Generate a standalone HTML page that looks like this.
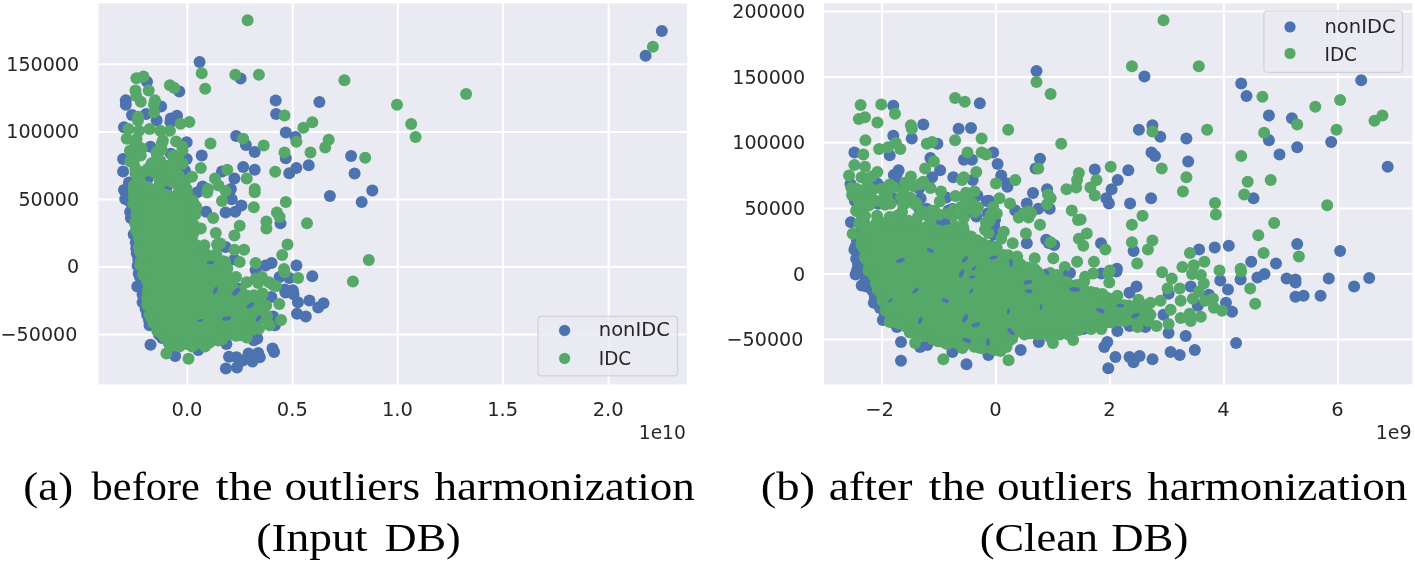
<!DOCTYPE html>
<html><head><meta charset="utf-8"><title>Outliers harmonization</title>
<style>
html,body{margin:0;padding:0;background:#fff;width:1415px;height:566px;overflow:hidden}
svg{display:block}
.tk{font-family:"DejaVu Sans","Liberation Sans",sans-serif;font-size:19.5px;fill:#262626}
.cap{font-family:"Liberation Serif",serif;font-size:41px;fill:#000}
</style></head><body>
<svg width="1415" height="566" viewBox="0 0 1415 566">
<rect width="1415" height="566" fill="#fff"/>
<clipPath id="cl"><rect x="98.5" y="3.5" width="588.6" height="380.9"/></clipPath>
<rect x="98.5" y="3.5" width="588.6" height="380.9" fill="#eaeaf2"/>
<line x1="187.4" y1="3.5" x2="187.4" y2="384.4" stroke="#fff" stroke-width="2"/>
<line x1="292.7" y1="3.5" x2="292.7" y2="384.4" stroke="#fff" stroke-width="2"/>
<line x1="397.79999999999995" y1="3.5" x2="397.79999999999995" y2="384.4" stroke="#fff" stroke-width="2"/>
<line x1="503.09999999999997" y1="3.5" x2="503.09999999999997" y2="384.4" stroke="#fff" stroke-width="2"/>
<line x1="608.6" y1="3.5" x2="608.6" y2="384.4" stroke="#fff" stroke-width="2"/>
<line x1="98.5" y1="64.3" x2="687.1" y2="64.3" stroke="#fff" stroke-width="2"/>
<line x1="98.5" y1="131.9" x2="687.1" y2="131.9" stroke="#fff" stroke-width="2"/>
<line x1="98.5" y1="199.4" x2="687.1" y2="199.4" stroke="#fff" stroke-width="2"/>
<line x1="98.5" y1="266.9" x2="687.1" y2="266.9" stroke="#fff" stroke-width="2"/>
<line x1="98.5" y1="334.5" x2="687.1" y2="334.5" stroke="#fff" stroke-width="2"/>
<g clip-path="url(#cl)"><g transform="translate(0.4,0.5)">
<path d="M127.0,180.9 L127.0,189.3 L130.3,200.6 L130.4,201.0 L130.5,201.4 L132.0,214.4 L134.0,231.4 L134.0,231.4 L136.0,249.3 L137.9,261.0 L140.9,273.9 L140.9,274.0 L143.4,286.0 L143.5,286.7 L144.4,301.0 L149.2,314.2 L154.5,327.7 L160.9,337.9 L168.4,345.3 L175.0,346.2 L175.0,301.4 L145.7,252.6 L145.5,252.1 L145.3,251.7 L145.1,251.2 L145.1,250.7 L135.5,183.8 L127.0,180.9Z" fill="#4c72b0"/>
<circle cx="128.5" cy="181.9" r="6.0" fill="#4c72b0"/>
<circle cx="128.3" cy="188.0" r="6.0" fill="#4c72b0"/>
<circle cx="129.0" cy="193.8" r="6.0" fill="#4c72b0"/>
<circle cx="129.0" cy="200.4" r="6.0" fill="#4c72b0"/>
<circle cx="131.7" cy="204.8" r="6.0" fill="#4c72b0"/>
<circle cx="129.7" cy="211.4" r="6.0" fill="#4c72b0"/>
<circle cx="130.5" cy="217.6" r="6.0" fill="#4c72b0"/>
<circle cx="134.9" cy="223.3" r="6.0" fill="#4c72b0"/>
<circle cx="135.8" cy="229.8" r="6.0" fill="#4c72b0"/>
<circle cx="133.3" cy="234.1" r="6.0" fill="#4c72b0"/>
<circle cx="135.4" cy="241.9" r="6.0" fill="#4c72b0"/>
<circle cx="135.9" cy="247.7" r="6.0" fill="#4c72b0"/>
<circle cx="136.4" cy="253.1" r="6.0" fill="#4c72b0"/>
<circle cx="137.9" cy="258.9" r="6.0" fill="#4c72b0"/>
<circle cx="137.2" cy="265.2" r="6.0" fill="#4c72b0"/>
<circle cx="138.3" cy="273.0" r="6.0" fill="#4c72b0"/>
<circle cx="139.5" cy="276.2" r="6.0" fill="#4c72b0"/>
<circle cx="141.2" cy="283.7" r="6.0" fill="#4c72b0"/>
<circle cx="144.3" cy="288.2" r="6.0" fill="#4c72b0"/>
<circle cx="142.2" cy="294.0" r="6.0" fill="#4c72b0"/>
<circle cx="145.9" cy="300.9" r="6.0" fill="#4c72b0"/>
<circle cx="145.2" cy="308.5" r="6.0" fill="#4c72b0"/>
<circle cx="146.8" cy="314.5" r="6.0" fill="#4c72b0"/>
<circle cx="148.7" cy="319.9" r="6.0" fill="#4c72b0"/>
<circle cx="151.2" cy="322.5" r="6.0" fill="#4c72b0"/>
<circle cx="157.4" cy="329.8" r="6.0" fill="#4c72b0"/>
<circle cx="158.6" cy="334.1" r="6.0" fill="#4c72b0"/>
<circle cx="161.8" cy="337.4" r="6.0" fill="#4c72b0"/>
<circle cx="168.4" cy="342.6" r="6.0" fill="#4c72b0"/>
<circle cx="174.0" cy="345.5" r="6.0" fill="#4c72b0"/>
<circle cx="175.9" cy="342.6" r="6.0" fill="#4c72b0"/>
<circle cx="173.9" cy="334.9" r="6.0" fill="#4c72b0"/>
<circle cx="174.0" cy="332.4" r="6.0" fill="#4c72b0"/>
<circle cx="173.0" cy="325.3" r="6.0" fill="#4c72b0"/>
<circle cx="175.9" cy="317.7" r="6.0" fill="#4c72b0"/>
<circle cx="174.4" cy="311.0" r="6.0" fill="#4c72b0"/>
<circle cx="176.5" cy="306.8" r="6.0" fill="#4c72b0"/>
<circle cx="172.6" cy="299.8" r="6.0" fill="#4c72b0"/>
<circle cx="172.1" cy="295.7" r="6.0" fill="#4c72b0"/>
<circle cx="166.3" cy="289.2" r="6.0" fill="#4c72b0"/>
<circle cx="164.7" cy="284.3" r="6.0" fill="#4c72b0"/>
<circle cx="163.8" cy="278.6" r="6.0" fill="#4c72b0"/>
<circle cx="156.5" cy="272.3" r="6.0" fill="#4c72b0"/>
<circle cx="154.7" cy="270.5" r="6.0" fill="#4c72b0"/>
<circle cx="153.5" cy="262.9" r="6.0" fill="#4c72b0"/>
<circle cx="149.0" cy="256.4" r="6.0" fill="#4c72b0"/>
<circle cx="145.9" cy="251.2" r="6.0" fill="#4c72b0"/>
<circle cx="145.7" cy="247.3" r="6.0" fill="#4c72b0"/>
<circle cx="145.6" cy="241.1" r="6.0" fill="#4c72b0"/>
<circle cx="141.4" cy="234.3" r="6.0" fill="#4c72b0"/>
<circle cx="143.6" cy="228.4" r="6.0" fill="#4c72b0"/>
<circle cx="141.3" cy="222.9" r="6.0" fill="#4c72b0"/>
<circle cx="140.3" cy="218.4" r="6.0" fill="#4c72b0"/>
<circle cx="137.9" cy="209.3" r="6.0" fill="#4c72b0"/>
<circle cx="139.1" cy="205.5" r="6.0" fill="#4c72b0"/>
<circle cx="138.6" cy="197.1" r="6.0" fill="#4c72b0"/>
<circle cx="137.0" cy="194.7" r="6.0" fill="#4c72b0"/>
<circle cx="134.8" cy="188.0" r="6.0" fill="#4c72b0"/>
<circle cx="134.8" cy="183.1" r="6.0" fill="#4c72b0"/>
<g fill="#4c72b0">
<circle cx="199.2" cy="61.5" r="6"/>
<circle cx="240.2" cy="78.1" r="6"/>
<circle cx="146.6" cy="81.2" r="6"/>
<circle cx="178.9" cy="90.9" r="6"/>
<circle cx="125.4" cy="99.8" r="6"/>
<circle cx="275.3" cy="100.0" r="6"/>
<circle cx="319.0" cy="101.5" r="6"/>
<circle cx="661.4" cy="30.4" r="6"/>
<circle cx="645.2" cy="55.2" r="6"/>
<circle cx="125.4" cy="104.2" r="6"/>
<circle cx="160.7" cy="106.0" r="6"/>
<circle cx="131.6" cy="114.4" r="6"/>
<circle cx="145.7" cy="113.5" r="6"/>
<circle cx="156.3" cy="119.7" r="6"/>
<circle cx="170.4" cy="118.0" r="6"/>
<circle cx="176.6" cy="115.3" r="6"/>
<circle cx="123.6" cy="126.8" r="6"/>
<circle cx="150.1" cy="146.2" r="6"/>
<circle cx="186.3" cy="141.8" r="6"/>
<circle cx="170.4" cy="153.3" r="6"/>
<circle cx="186.3" cy="158.6" r="6"/>
<circle cx="201.3" cy="155.0" r="6"/>
<circle cx="122.7" cy="158.6" r="6"/>
<circle cx="122.7" cy="170.9" r="6"/>
<circle cx="184.5" cy="170.0" r="6"/>
<circle cx="235.7" cy="135.6" r="6"/>
<circle cx="245.5" cy="144.4" r="6"/>
<circle cx="254.3" cy="151.5" r="6"/>
<circle cx="242.8" cy="166.5" r="6"/>
<circle cx="254.3" cy="169.2" r="6"/>
<circle cx="221.6" cy="170.9" r="6"/>
<circle cx="234.0" cy="178.0" r="6"/>
<circle cx="202.2" cy="186.0" r="6"/>
<circle cx="230.5" cy="188.6" r="6"/>
<circle cx="123.6" cy="189.5" r="6"/>
<circle cx="275.7" cy="113.5" r="6"/>
<circle cx="285.4" cy="132.1" r="6"/>
<circle cx="295.1" cy="136.5" r="6"/>
<circle cx="285.4" cy="157.7" r="6"/>
<circle cx="296.0" cy="167.4" r="6"/>
<circle cx="288.9" cy="172.7" r="6"/>
<circle cx="308.3" cy="164.8" r="6"/>
<circle cx="350.7" cy="155.4" r="6"/>
<circle cx="354.2" cy="173.1" r="6"/>
<circle cx="371.9" cy="190.0" r="6"/>
<circle cx="329.5" cy="195.5" r="6"/>
<circle cx="228.7" cy="191.8" r="6"/>
<circle cx="231.3" cy="198.8" r="6"/>
<circle cx="225.2" cy="212.1" r="6"/>
<circle cx="234.9" cy="211.2" r="6"/>
<circle cx="241.0" cy="205.0" r="6"/>
<circle cx="205.7" cy="211.2" r="6"/>
<circle cx="186.3" cy="211.2" r="6"/>
<circle cx="196.9" cy="250.0" r="6"/>
<circle cx="206.6" cy="254.5" r="6"/>
<circle cx="225.2" cy="246.5" r="6"/>
<circle cx="234.0" cy="258.9" r="6"/>
<circle cx="255.2" cy="269.5" r="6"/>
<circle cx="237.5" cy="288.0" r="6"/>
<circle cx="212.8" cy="276.5" r="6"/>
<circle cx="196.9" cy="191.8" r="6"/>
<circle cx="361.3" cy="201.5" r="6"/>
<circle cx="280.1" cy="222.7" r="6"/>
<circle cx="271.2" cy="262.4" r="6"/>
<circle cx="265.1" cy="265.1" r="6"/>
<circle cx="296.0" cy="265.1" r="6"/>
<circle cx="311.9" cy="275.7" r="6"/>
<circle cx="279.2" cy="276.5" r="6"/>
<circle cx="288.9" cy="277.4" r="6"/>
<circle cx="284.5" cy="288.9" r="6"/>
<circle cx="292.4" cy="289.8" r="6"/>
<circle cx="136.9" cy="285.9" r="6"/>
<circle cx="142.2" cy="301.8" r="6"/>
<circle cx="149.2" cy="324.7" r="6"/>
<circle cx="150.1" cy="344.2" r="6"/>
<circle cx="174.8" cy="355.6" r="6"/>
<circle cx="197.8" cy="349.5" r="6"/>
<circle cx="238.4" cy="293.0" r="6"/>
<circle cx="253.4" cy="339.7" r="6"/>
<circle cx="271.0" cy="296.5" r="6"/>
<circle cx="285.1" cy="292.1" r="6"/>
<circle cx="293.1" cy="293.8" r="6"/>
<circle cx="297.5" cy="301.8" r="6"/>
<circle cx="309.0" cy="300.0" r="6"/>
<circle cx="323.1" cy="302.7" r="6"/>
<circle cx="317.8" cy="307.1" r="6"/>
<circle cx="296.6" cy="313.3" r="6"/>
<circle cx="305.4" cy="315.9" r="6"/>
<circle cx="272.7" cy="315.9" r="6"/>
<circle cx="274.5" cy="324.7" r="6"/>
<circle cx="256.9" cy="338.0" r="6"/>
<circle cx="226.0" cy="343.6" r="6"/>
<circle cx="273.7" cy="351.5" r="6"/>
<circle cx="225.5" cy="368.0" r="6"/>
<circle cx="236.6" cy="366.9" r="6"/>
<circle cx="228.6" cy="356.3" r="6"/>
<circle cx="236.1" cy="356.8" r="6"/>
<circle cx="242.4" cy="360.0" r="6"/>
<circle cx="248.2" cy="353.1" r="6"/>
<circle cx="252.0" cy="361.0" r="6"/>
<circle cx="257.8" cy="352.6" r="6"/>
<circle cx="259.4" cy="356.8" r="6"/>
<circle cx="170.0" cy="121.4" r="6"/>
<circle cx="165.8" cy="187.9" r="6"/>
<circle cx="147.4" cy="178.0" r="6"/>
<circle cx="124.8" cy="198.5" r="6"/>
<circle cx="204.0" cy="254.6" r="6"/>
<circle cx="272.1" cy="348.0" r="6"/>
</g>
<path d="M133.7,192.3 L134.0,199.7 L135.0,214.5 L137.0,231.4 L137.0,231.4 L139.0,249.3 L140.9,261.0 L143.9,273.9 L143.9,274.0 L146.4,286.0 L146.5,286.7 L147.4,301.1 L151.7,314.4 L156.5,327.7 L162.8,336.8 L168.4,342.3 L180.4,344.0 L199.7,344.5 L216.7,342.3 L222.5,336.5 L222.8,336.2 L223.2,335.9 L223.6,335.6 L224.0,335.4 L224.4,335.3 L224.8,335.1 L225.3,335.1 L238.8,333.1 L252.1,328.7 L257.9,322.0 L262.7,314.1 L260.6,303.3 L247.6,296.4 L247.5,296.3 L233.5,288.3 L233.1,288.1 L232.8,287.8 L232.4,287.5 L232.1,287.2 L231.8,286.8 L231.6,286.4 L231.4,286.0 L225.4,272.0 L225.2,271.4 L225.1,270.8 L223.4,261.1 L212.9,254.6 L200.5,250.8 L200.1,250.6 L199.7,250.4 L199.3,250.2 L198.9,249.9 L198.5,249.6 L198.2,249.3 L197.9,248.9 L197.7,248.5 L197.4,248.1 L192.4,237.1 L192.3,236.6 L192.1,236.1 L192.0,235.5 L192.0,235.0 L192.0,218.0 L192.0,217.5 L192.1,217.1 L192.2,216.6 L192.3,216.2 L192.5,215.8 L192.7,215.4 L193.0,215.0 L197.5,209.0 L195.5,202.4 L189.3,194.6 L179.9,193.1 L165.7,195.0 L165.2,195.0 L164.7,195.0 L149.7,194.0 L149.3,194.0 L135.1,192.1 L133.7,192.3Z" fill="#55a868"/>
<circle cx="133.4" cy="190.2" r="6.0" fill="#55a868"/>
<circle cx="135.2" cy="199.6" r="6.0" fill="#55a868"/>
<circle cx="132.9" cy="203.3" r="6.0" fill="#55a868"/>
<circle cx="136.2" cy="208.7" r="6.0" fill="#55a868"/>
<circle cx="136.2" cy="214.6" r="6.0" fill="#55a868"/>
<circle cx="134.8" cy="222.1" r="6.0" fill="#55a868"/>
<circle cx="135.7" cy="230.1" r="6.0" fill="#55a868"/>
<circle cx="138.3" cy="236.1" r="6.0" fill="#55a868"/>
<circle cx="139.2" cy="238.9" r="6.0" fill="#55a868"/>
<circle cx="138.6" cy="246.6" r="6.0" fill="#55a868"/>
<circle cx="139.4" cy="250.7" r="6.0" fill="#55a868"/>
<circle cx="140.5" cy="260.6" r="6.0" fill="#55a868"/>
<circle cx="140.0" cy="264.8" r="6.0" fill="#55a868"/>
<circle cx="143.4" cy="268.9" r="6.0" fill="#55a868"/>
<circle cx="142.7" cy="274.4" r="6.0" fill="#55a868"/>
<circle cx="147.0" cy="281.1" r="6.0" fill="#55a868"/>
<circle cx="147.5" cy="289.5" r="6.0" fill="#55a868"/>
<circle cx="147.3" cy="295.5" r="6.0" fill="#55a868"/>
<circle cx="146.8" cy="298.2" r="6.0" fill="#55a868"/>
<circle cx="147.0" cy="304.4" r="6.0" fill="#55a868"/>
<circle cx="149.3" cy="314.0" r="6.0" fill="#55a868"/>
<circle cx="151.0" cy="317.2" r="6.0" fill="#55a868"/>
<circle cx="152.9" cy="322.3" r="6.0" fill="#55a868"/>
<circle cx="156.9" cy="330.5" r="6.0" fill="#55a868"/>
<circle cx="161.8" cy="333.5" r="6.0" fill="#55a868"/>
<circle cx="164.2" cy="336.4" r="6.0" fill="#55a868"/>
<circle cx="168.7" cy="342.7" r="6.0" fill="#55a868"/>
<circle cx="173.9" cy="345.0" r="6.0" fill="#55a868"/>
<circle cx="179.0" cy="345.9" r="6.0" fill="#55a868"/>
<circle cx="186.3" cy="343.5" r="6.0" fill="#55a868"/>
<circle cx="191.7" cy="346.1" r="6.0" fill="#55a868"/>
<circle cx="199.6" cy="342.6" r="6.0" fill="#55a868"/>
<circle cx="204.6" cy="345.9" r="6.0" fill="#55a868"/>
<circle cx="209.1" cy="342.3" r="6.0" fill="#55a868"/>
<circle cx="217.8" cy="340.1" r="6.0" fill="#55a868"/>
<circle cx="219.5" cy="338.0" r="6.0" fill="#55a868"/>
<circle cx="226.6" cy="334.2" r="6.0" fill="#55a868"/>
<circle cx="231.5" cy="333.8" r="6.0" fill="#55a868"/>
<circle cx="239.9" cy="334.7" r="6.0" fill="#55a868"/>
<circle cx="242.7" cy="329.9" r="6.0" fill="#55a868"/>
<circle cx="250.4" cy="327.4" r="6.0" fill="#55a868"/>
<circle cx="255.0" cy="325.5" r="6.0" fill="#55a868"/>
<circle cx="256.7" cy="319.3" r="6.0" fill="#55a868"/>
<circle cx="263.6" cy="318.0" r="6.0" fill="#55a868"/>
<circle cx="261.1" cy="310.0" r="6.0" fill="#55a868"/>
<circle cx="261.2" cy="302.8" r="6.0" fill="#55a868"/>
<circle cx="257.5" cy="303.1" r="6.0" fill="#55a868"/>
<circle cx="249.2" cy="298.7" r="6.0" fill="#55a868"/>
<circle cx="246.1" cy="294.9" r="6.0" fill="#55a868"/>
<circle cx="240.8" cy="290.4" r="6.0" fill="#55a868"/>
<circle cx="236.3" cy="291.0" r="6.0" fill="#55a868"/>
<circle cx="231.8" cy="286.0" r="6.0" fill="#55a868"/>
<circle cx="230.0" cy="280.8" r="6.0" fill="#55a868"/>
<circle cx="225.1" cy="273.3" r="6.0" fill="#55a868"/>
<circle cx="226.4" cy="269.0" r="6.0" fill="#55a868"/>
<circle cx="224.7" cy="261.2" r="6.0" fill="#55a868"/>
<circle cx="218.0" cy="260.2" r="6.0" fill="#55a868"/>
<circle cx="215.8" cy="253.6" r="6.0" fill="#55a868"/>
<circle cx="206.9" cy="254.9" r="6.0" fill="#55a868"/>
<circle cx="202.1" cy="252.6" r="6.0" fill="#55a868"/>
<circle cx="198.7" cy="247.8" r="6.0" fill="#55a868"/>
<circle cx="196.1" cy="244.7" r="6.0" fill="#55a868"/>
<circle cx="191.7" cy="236.3" r="6.0" fill="#55a868"/>
<circle cx="193.2" cy="232.0" r="6.0" fill="#55a868"/>
<circle cx="193.8" cy="225.1" r="6.0" fill="#55a868"/>
<circle cx="190.6" cy="220.9" r="6.0" fill="#55a868"/>
<circle cx="194.9" cy="214.1" r="6.0" fill="#55a868"/>
<circle cx="195.9" cy="206.8" r="6.0" fill="#55a868"/>
<circle cx="194.3" cy="204.4" r="6.0" fill="#55a868"/>
<circle cx="192.2" cy="199.8" r="6.0" fill="#55a868"/>
<circle cx="186.6" cy="192.6" r="6.0" fill="#55a868"/>
<circle cx="183.8" cy="192.9" r="6.0" fill="#55a868"/>
<circle cx="175.7" cy="195.0" r="6.0" fill="#55a868"/>
<circle cx="167.7" cy="195.1" r="6.0" fill="#55a868"/>
<circle cx="166.0" cy="194.6" r="6.0" fill="#55a868"/>
<circle cx="156.1" cy="193.0" r="6.0" fill="#55a868"/>
<circle cx="150.7" cy="195.2" r="6.0" fill="#55a868"/>
<circle cx="146.0" cy="195.0" r="6.0" fill="#55a868"/>
<circle cx="140.6" cy="190.7" r="6.0" fill="#55a868"/>
<g fill="#55a868">
<circle cx="137.4" cy="177.7" r="6"/>
<circle cx="164.2" cy="168.0" r="6"/>
<circle cx="140.3" cy="182.5" r="6"/>
<circle cx="174.0" cy="169.6" r="6"/>
<circle cx="156.8" cy="156.9" r="6"/>
<circle cx="161.4" cy="149.2" r="6"/>
<circle cx="173.2" cy="156.7" r="6"/>
<circle cx="141.3" cy="147.9" r="6"/>
<circle cx="184.9" cy="180.0" r="6"/>
<circle cx="177.9" cy="174.3" r="6"/>
<circle cx="129.9" cy="161.1" r="6"/>
<circle cx="156.4" cy="151.3" r="6"/>
<circle cx="182.3" cy="162.9" r="6"/>
<circle cx="136.8" cy="183.6" r="6"/>
<circle cx="135.1" cy="188.7" r="6"/>
<circle cx="153.8" cy="171.4" r="6"/>
<circle cx="147.5" cy="168.3" r="6"/>
<circle cx="177.4" cy="156.8" r="6"/>
<circle cx="172.5" cy="155.6" r="6"/>
<circle cx="183.2" cy="187.1" r="6"/>
<circle cx="171.0" cy="181.1" r="6"/>
<circle cx="161.1" cy="179.6" r="6"/>
<circle cx="135.0" cy="167.9" r="6"/>
<circle cx="175.1" cy="155.2" r="6"/>
<circle cx="180.6" cy="186.8" r="6"/>
<circle cx="151.3" cy="162.8" r="6"/>
<circle cx="153.7" cy="163.7" r="6"/>
<circle cx="129.5" cy="150.3" r="6"/>
<circle cx="156.3" cy="168.6" r="6"/>
<circle cx="159.4" cy="180.4" r="6"/>
</g>
<g fill="#55a868">
<circle cx="247.2" cy="19.8" r="6"/>
<circle cx="201.3" cy="72.8" r="6"/>
<circle cx="204.8" cy="88.3" r="6"/>
<circle cx="234.9" cy="74.2" r="6"/>
<circle cx="258.5" cy="74.3" r="6"/>
<circle cx="136.0" cy="77.7" r="6"/>
<circle cx="143.0" cy="75.9" r="6"/>
<circle cx="148.3" cy="90.1" r="6"/>
<circle cx="135.1" cy="90.1" r="6"/>
<circle cx="136.0" cy="95.4" r="6"/>
<circle cx="169.5" cy="84.8" r="6"/>
<circle cx="174.0" cy="87.4" r="6"/>
<circle cx="154.5" cy="99.8" r="6"/>
<circle cx="344.0" cy="79.8" r="6"/>
<circle cx="396.6" cy="104.3" r="6"/>
<circle cx="465.7" cy="93.6" r="6"/>
<circle cx="652.5" cy="46.3" r="6"/>
<circle cx="140.4" cy="101.2" r="6"/>
<circle cx="153.6" cy="103.8" r="6"/>
<circle cx="153.6" cy="111.8" r="6"/>
<circle cx="137.7" cy="116.2" r="6"/>
<circle cx="180.1" cy="123.3" r="6"/>
<circle cx="189.0" cy="121.5" r="6"/>
<circle cx="128.0" cy="128.6" r="6"/>
<circle cx="138.6" cy="130.3" r="6"/>
<circle cx="149.2" cy="128.6" r="6"/>
<circle cx="159.8" cy="130.3" r="6"/>
<circle cx="169.5" cy="130.3" r="6"/>
<circle cx="126.3" cy="138.3" r="6"/>
<circle cx="136.0" cy="141.8" r="6"/>
<circle cx="162.5" cy="140.0" r="6"/>
<circle cx="175.7" cy="140.9" r="6"/>
<circle cx="181.9" cy="146.2" r="6"/>
<circle cx="210.1" cy="143.0" r="6"/>
<circle cx="242.8" cy="138.3" r="6"/>
<circle cx="131.6" cy="153.3" r="6"/>
<circle cx="140.4" cy="155.0" r="6"/>
<circle cx="156.3" cy="153.3" r="6"/>
<circle cx="133.3" cy="162.1" r="6"/>
<circle cx="151.0" cy="163.9" r="6"/>
<circle cx="159.8" cy="160.3" r="6"/>
<circle cx="173.9" cy="162.1" r="6"/>
<circle cx="200.4" cy="167.4" r="6"/>
<circle cx="226.9" cy="169.2" r="6"/>
<circle cx="246.3" cy="178.0" r="6"/>
<circle cx="135.1" cy="172.7" r="6"/>
<circle cx="143.9" cy="170.9" r="6"/>
<circle cx="158.0" cy="174.5" r="6"/>
<circle cx="172.2" cy="170.9" r="6"/>
<circle cx="191.6" cy="176.2" r="6"/>
<circle cx="214.6" cy="178.0" r="6"/>
<circle cx="133.3" cy="185.1" r="6"/>
<circle cx="143.9" cy="186.8" r="6"/>
<circle cx="154.5" cy="188.6" r="6"/>
<circle cx="165.1" cy="179.8" r="6"/>
<circle cx="177.5" cy="185.1" r="6"/>
<circle cx="186.3" cy="188.6" r="6"/>
<circle cx="207.5" cy="188.6" r="6"/>
<circle cx="218.1" cy="185.1" r="6"/>
<circle cx="225.2" cy="190.4" r="6"/>
<circle cx="254.3" cy="188.6" r="6"/>
<circle cx="284.1" cy="115.0" r="6"/>
<circle cx="303.0" cy="127.3" r="6"/>
<circle cx="311.9" cy="121.8" r="6"/>
<circle cx="296.0" cy="141.3" r="6"/>
<circle cx="263.3" cy="145.0" r="6"/>
<circle cx="284.1" cy="151.9" r="6"/>
<circle cx="310.1" cy="151.9" r="6"/>
<circle cx="328.3" cy="139.2" r="6"/>
<circle cx="324.8" cy="147.1" r="6"/>
<circle cx="364.8" cy="157.2" r="6"/>
<circle cx="274.8" cy="171.3" r="6"/>
<circle cx="410.8" cy="123.6" r="6"/>
<circle cx="415.2" cy="136.5" r="6"/>
<circle cx="254.3" cy="191.8" r="6"/>
<circle cx="221.6" cy="200.6" r="6"/>
<circle cx="253.4" cy="206.8" r="6"/>
<circle cx="212.8" cy="217.4" r="6"/>
<circle cx="239.3" cy="225.3" r="6"/>
<circle cx="234.0" cy="235.0" r="6"/>
<circle cx="200.4" cy="228.0" r="6"/>
<circle cx="215.4" cy="232.4" r="6"/>
<circle cx="204.0" cy="244.7" r="6"/>
<circle cx="219.9" cy="243.0" r="6"/>
<circle cx="234.0" cy="249.2" r="6"/>
<circle cx="243.7" cy="249.2" r="6"/>
<circle cx="239.3" cy="261.5" r="6"/>
<circle cx="255.2" cy="262.4" r="6"/>
<circle cx="221.6" cy="260.6" r="6"/>
<circle cx="226.9" cy="267.7" r="6"/>
<circle cx="235.7" cy="276.5" r="6"/>
<circle cx="246.3" cy="281.8" r="6"/>
<circle cx="255.2" cy="278.3" r="6"/>
<circle cx="225.2" cy="283.6" r="6"/>
<circle cx="285.4" cy="201.5" r="6"/>
<circle cx="276.5" cy="212.1" r="6"/>
<circle cx="279.2" cy="216.5" r="6"/>
<circle cx="266.0" cy="220.9" r="6"/>
<circle cx="266.0" cy="228.0" r="6"/>
<circle cx="306.6" cy="222.7" r="6"/>
<circle cx="287.1" cy="243.9" r="6"/>
<circle cx="281.8" cy="254.5" r="6"/>
<circle cx="283.6" cy="268.6" r="6"/>
<circle cx="297.7" cy="277.4" r="6"/>
<circle cx="368.4" cy="259.4" r="6"/>
<circle cx="352.5" cy="281.0" r="6"/>
<circle cx="261.5" cy="276.5" r="6"/>
<circle cx="268.6" cy="281.8" r="6"/>
<circle cx="275.7" cy="285.4" r="6"/>
<circle cx="166.0" cy="353.0" r="6"/>
<circle cx="188.1" cy="358.3" r="6"/>
<circle cx="257.7" cy="282.4" r="6"/>
<circle cx="284.2" cy="271.8" r="6"/>
<circle cx="253.3" cy="294.7" r="6"/>
<circle cx="262.2" cy="293.0" r="6"/>
<circle cx="278.9" cy="303.6" r="6"/>
<circle cx="280.7" cy="319.4" r="6"/>
<circle cx="265.7" cy="305.3" r="6"/>
<circle cx="266.6" cy="315.9" r="6"/>
<circle cx="269.2" cy="324.7" r="6"/>
<circle cx="258.6" cy="328.3" r="6"/>
<circle cx="246.3" cy="337.1" r="6"/>
<circle cx="235.7" cy="335.3" r="6"/>
<circle cx="221.5" cy="338.9" r="6"/>
<circle cx="137.5" cy="120.0" r="6"/>
<circle cx="136.1" cy="138.4" r="6"/>
<circle cx="134.7" cy="145.5" r="6"/>
<circle cx="161.6" cy="142.6" r="6"/>
<circle cx="182.1" cy="149.7" r="6"/>
<circle cx="175.7" cy="159.6" r="6"/>
<circle cx="154.5" cy="165.3" r="6"/>
<circle cx="167.2" cy="165.3" r="6"/>
<circle cx="138.9" cy="179.4" r="6"/>
<circle cx="161.6" cy="176.6" r="6"/>
<circle cx="171.5" cy="173.7" r="6"/>
<circle cx="178.5" cy="180.8" r="6"/>
<circle cx="147.4" cy="186.5" r="6"/>
<circle cx="158.7" cy="186.5" r="6"/>
<circle cx="181.4" cy="190.7" r="6"/>
<circle cx="206.8" cy="192.1" r="6"/>
<circle cx="133.3" cy="196.4" r="6"/>
<circle cx="151.7" cy="196.4" r="6"/>
<circle cx="184.2" cy="197.1" r="6"/>
<circle cx="216.7" cy="243.9" r="6"/>
<circle cx="273.1" cy="284.7" r="6"/>
<circle cx="263.4" cy="308.1" r="6"/>
<circle cx="251.7" cy="329.5" r="6"/>
</g>
<g fill="#4c72b0">
<ellipse cx="215" cy="290" rx="3.8" ry="1.8" transform="rotate(112 215 290)"/>
<ellipse cx="236" cy="291" rx="5.2" ry="2.4" transform="rotate(134 236 291)"/>
<ellipse cx="250" cy="305" rx="4.5" ry="2.1" transform="rotate(143 250 305)"/>
<ellipse cx="226" cy="318" rx="4.5" ry="2.1" transform="rotate(170 226 318)"/>
<ellipse cx="258" cy="318" rx="3.8" ry="1.8" transform="rotate(133 258 318)"/>
<ellipse cx="200" cy="320" rx="3.0" ry="1.4" transform="rotate(166 200 320)"/>
<ellipse cx="210" cy="262" rx="3.8" ry="1.8" transform="rotate(5 210 262)"/>
</g>
</g></g>
<text x="187" y="415.7" text-anchor="middle" class="tk">0.0</text>
<text x="292.3" y="415.7" text-anchor="middle" class="tk">0.5</text>
<text x="397.4" y="415.7" text-anchor="middle" class="tk">1.0</text>
<text x="502.7" y="415.7" text-anchor="middle" class="tk">1.5</text>
<text x="608.2" y="415.7" text-anchor="middle" class="tk">2.0</text>
<text x="79.2" y="70.8" text-anchor="end" class="tk" textLength="72.95" lengthAdjust="spacingAndGlyphs">150000</text>
<text x="79.2" y="138.4" text-anchor="end" class="tk" textLength="72.95" lengthAdjust="spacingAndGlyphs">100000</text>
<text x="79.2" y="205.9" text-anchor="end" class="tk" textLength="60.79" lengthAdjust="spacingAndGlyphs">50000</text>
<text x="79.2" y="273.4" text-anchor="end" class="tk" textLength="12.16" lengthAdjust="spacingAndGlyphs">0</text>
<text x="77.4" y="341.0" text-anchor="end" class="tk" textLength="76.80" lengthAdjust="spacingAndGlyphs">−50000</text>
<text x="685.8" y="438.8" text-anchor="end" class="tk" textLength="47.00" lengthAdjust="spacingAndGlyphs">1e10</text>
<rect x="538" y="316.3" width="139.5" height="59.6" rx="3.5" fill="#eaeaf2" fill-opacity="0.8" stroke="#cccccc" stroke-opacity="0.8" stroke-width="1.2"/>
<circle cx="564.6" cy="330.5" r="6" fill="#4c72b0" stroke="#fff" stroke-width="0.6"/>
<circle cx="564.6" cy="358.5" r="6" fill="#55a868" stroke="#fff" stroke-width="0.6"/>
<text x="598.8" y="336.4" class="tk">nonIDC</text>
<text x="598.8" y="364.6" class="tk" textLength="32.4" lengthAdjust="spacingAndGlyphs">IDC</text>
<clipPath id="cr"><rect x="823.9" y="3.3" width="588.5" height="381.1"/></clipPath>
<rect x="823.9" y="3.3" width="588.5" height="381.1" fill="#eaeaf2"/>
<line x1="881.9" y1="3.3" x2="881.9" y2="384.4" stroke="#fff" stroke-width="2"/>
<line x1="995.9" y1="3.3" x2="995.9" y2="384.4" stroke="#fff" stroke-width="2"/>
<line x1="1109.9" y1="3.3" x2="1109.9" y2="384.4" stroke="#fff" stroke-width="2"/>
<line x1="1223.9" y1="3.3" x2="1223.9" y2="384.4" stroke="#fff" stroke-width="2"/>
<line x1="1337.9" y1="3.3" x2="1337.9" y2="384.4" stroke="#fff" stroke-width="2"/>
<line x1="823.9" y1="11.5" x2="1412.4" y2="11.5" stroke="#fff" stroke-width="2"/>
<line x1="823.9" y1="77.1" x2="1412.4" y2="77.1" stroke="#fff" stroke-width="2"/>
<line x1="823.9" y1="142.8" x2="1412.4" y2="142.8" stroke="#fff" stroke-width="2"/>
<line x1="823.9" y1="208.4" x2="1412.4" y2="208.4" stroke="#fff" stroke-width="2"/>
<line x1="823.9" y1="274.0" x2="1412.4" y2="274.0" stroke="#fff" stroke-width="2"/>
<line x1="823.9" y1="339.6" x2="1412.4" y2="339.6" stroke="#fff" stroke-width="2"/>
<g clip-path="url(#cr)"><g transform="translate(0.4,0.5)">
<path d="M856.5,233.6 L857.0,239.6 L857.0,239.8 L858.0,261.0 L862.7,274.2 L868.5,287.7 L877.2,302.3 L885.7,314.5 L895.0,321.8 L895.0,281.4 L867.0,234.7 L856.5,233.6Z" fill="#4c72b0"/>
<circle cx="858.6" cy="232.9" r="6.0" fill="#4c72b0"/>
<circle cx="856.6" cy="240.1" r="6.0" fill="#4c72b0"/>
<circle cx="855.1" cy="246.3" r="6.0" fill="#4c72b0"/>
<circle cx="858.7" cy="252.3" r="6.0" fill="#4c72b0"/>
<circle cx="855.8" cy="258.2" r="6.0" fill="#4c72b0"/>
<circle cx="857.6" cy="264.0" r="6.0" fill="#4c72b0"/>
<circle cx="860.2" cy="270.2" r="6.0" fill="#4c72b0"/>
<circle cx="864.2" cy="274.6" r="6.0" fill="#4c72b0"/>
<circle cx="865.0" cy="280.8" r="6.0" fill="#4c72b0"/>
<circle cx="866.0" cy="286.1" r="6.0" fill="#4c72b0"/>
<circle cx="872.1" cy="290.3" r="6.0" fill="#4c72b0"/>
<circle cx="874.5" cy="296.7" r="6.0" fill="#4c72b0"/>
<circle cx="878.2" cy="302.4" r="6.0" fill="#4c72b0"/>
<circle cx="879.6" cy="307.4" r="6.0" fill="#4c72b0"/>
<circle cx="884.5" cy="313.4" r="6.0" fill="#4c72b0"/>
<circle cx="886.8" cy="316.4" r="6.0" fill="#4c72b0"/>
<circle cx="893.2" cy="320.3" r="6.0" fill="#4c72b0"/>
<circle cx="893.3" cy="317.1" r="6.0" fill="#4c72b0"/>
<circle cx="896.6" cy="311.6" r="6.0" fill="#4c72b0"/>
<circle cx="894.4" cy="306.5" r="6.0" fill="#4c72b0"/>
<circle cx="896.7" cy="302.8" r="6.0" fill="#4c72b0"/>
<circle cx="896.3" cy="296.4" r="6.0" fill="#4c72b0"/>
<circle cx="896.9" cy="288.5" r="6.0" fill="#4c72b0"/>
<circle cx="896.2" cy="281.2" r="6.0" fill="#4c72b0"/>
<circle cx="890.5" cy="276.6" r="6.0" fill="#4c72b0"/>
<circle cx="890.3" cy="273.3" r="6.0" fill="#4c72b0"/>
<circle cx="887.4" cy="265.0" r="6.0" fill="#4c72b0"/>
<circle cx="883.0" cy="259.8" r="6.0" fill="#4c72b0"/>
<circle cx="878.4" cy="257.0" r="6.0" fill="#4c72b0"/>
<circle cx="877.4" cy="251.8" r="6.0" fill="#4c72b0"/>
<circle cx="872.5" cy="246.5" r="6.0" fill="#4c72b0"/>
<circle cx="869.5" cy="239.9" r="6.0" fill="#4c72b0"/>
<circle cx="869.4" cy="234.0" r="6.0" fill="#4c72b0"/>
<circle cx="861.8" cy="235.8" r="6.0" fill="#4c72b0"/>
<g fill="#4c72b0">
<circle cx="917.9" cy="206.4" r="6"/>
<circle cx="988.6" cy="200.3" r="6"/>
<circle cx="926.2" cy="208.2" r="6"/>
<circle cx="877.7" cy="203.3" r="6"/>
<circle cx="944.5" cy="221.5" r="6"/>
<circle cx="864.1" cy="189.7" r="6"/>
<circle cx="863.6" cy="222.6" r="6"/>
<circle cx="948.1" cy="210.0" r="6"/>
<circle cx="878.5" cy="185.7" r="6"/>
<circle cx="854.5" cy="200.2" r="6"/>
<circle cx="916.1" cy="224.8" r="6"/>
<circle cx="927.9" cy="211.6" r="6"/>
<circle cx="925.0" cy="213.1" r="6"/>
<circle cx="918.6" cy="188.1" r="6"/>
<circle cx="976.0" cy="216.0" r="6"/>
<circle cx="897.3" cy="184.9" r="6"/>
<circle cx="893.4" cy="174.6" r="6"/>
<circle cx="964.9" cy="196.0" r="6"/>
<circle cx="977.0" cy="195.1" r="6"/>
<circle cx="993.7" cy="225.1" r="6"/>
<circle cx="850.1" cy="183.6" r="6"/>
<circle cx="986.5" cy="200.5" r="6"/>
<circle cx="861.0" cy="210.9" r="6"/>
<circle cx="863.1" cy="191.6" r="6"/>
<circle cx="994.6" cy="219.3" r="6"/>
</g>
<g fill="#4c72b0">
<circle cx="1036.1" cy="70.6" r="6"/>
<circle cx="1144.0" cy="75.9" r="6"/>
<circle cx="1240.8" cy="83.0" r="6"/>
<circle cx="1246.1" cy="95.4" r="6"/>
<circle cx="1360.8" cy="79.8" r="6"/>
<circle cx="892.9" cy="105.3" r="6"/>
<circle cx="922.9" cy="123.9" r="6"/>
<circle cx="911.4" cy="138.0" r="6"/>
<circle cx="892.9" cy="135.3" r="6"/>
<circle cx="937.0" cy="143.3" r="6"/>
<circle cx="979.4" cy="102.7" r="6"/>
<circle cx="958.2" cy="128.3" r="6"/>
<circle cx="970.6" cy="127.4" r="6"/>
<circle cx="854.0" cy="152.1" r="6"/>
<circle cx="889.3" cy="154.8" r="6"/>
<circle cx="898.2" cy="169.8" r="6"/>
<circle cx="896.4" cy="173.3" r="6"/>
<circle cx="930.0" cy="157.4" r="6"/>
<circle cx="939.7" cy="169.8" r="6"/>
<circle cx="931.7" cy="176.8" r="6"/>
<circle cx="952.9" cy="176.8" r="6"/>
<circle cx="963.5" cy="159.2" r="6"/>
<circle cx="971.5" cy="159.2" r="6"/>
<circle cx="972.3" cy="179.5" r="6"/>
<circle cx="877.0" cy="183.0" r="6"/>
<circle cx="992.8" cy="152.1" r="6"/>
<circle cx="997.2" cy="163.6" r="6"/>
<circle cx="1000.8" cy="175.1" r="6"/>
<circle cx="1039.6" cy="158.3" r="6"/>
<circle cx="1035.2" cy="168.0" r="6"/>
<circle cx="1007.0" cy="183.0" r="6"/>
<circle cx="1094.4" cy="168.9" r="6"/>
<circle cx="1127.9" cy="169.8" r="6"/>
<circle cx="1117.3" cy="179.5" r="6"/>
<circle cx="1138.5" cy="129.2" r="6"/>
<circle cx="1268.5" cy="115.0" r="6"/>
<circle cx="1291.5" cy="117.7" r="6"/>
<circle cx="1268.5" cy="139.7" r="6"/>
<circle cx="1296.8" cy="146.8" r="6"/>
<circle cx="1279.1" cy="153.9" r="6"/>
<circle cx="1152.0" cy="124.7" r="6"/>
<circle cx="1159.9" cy="136.2" r="6"/>
<circle cx="1186.0" cy="138.0" r="6"/>
<circle cx="1151.1" cy="152.1" r="6"/>
<circle cx="1154.6" cy="155.6" r="6"/>
<circle cx="1187.8" cy="160.9" r="6"/>
<circle cx="1330.8" cy="141.5" r="6"/>
<circle cx="1387.3" cy="166.2" r="6"/>
<circle cx="895.5" cy="175.9" r="6"/>
<circle cx="878.7" cy="185.6" r="6"/>
<circle cx="920.2" cy="198.0" r="6"/>
<circle cx="945.9" cy="197.1" r="6"/>
<circle cx="894.6" cy="198.0" r="6"/>
<circle cx="952.0" cy="208.6" r="6"/>
<circle cx="850.5" cy="221.8" r="6"/>
<circle cx="940.6" cy="220.9" r="6"/>
<circle cx="945.9" cy="228.0" r="6"/>
<circle cx="965.3" cy="213.0" r="6"/>
<circle cx="854.0" cy="249.2" r="6"/>
<circle cx="856.7" cy="269.5" r="6"/>
<circle cx="877.0" cy="224.4" r="6"/>
<circle cx="869.0" cy="180.3" r="6"/>
<circle cx="855.2" cy="274.0" r="6"/>
<circle cx="861.3" cy="285.1" r="6"/>
<circle cx="873.4" cy="302.2" r="6"/>
<circle cx="882.4" cy="319.4" r="6"/>
<circle cx="896.5" cy="326.4" r="6"/>
<circle cx="900.6" cy="341.5" r="6"/>
<circle cx="909.6" cy="331.5" r="6"/>
<circle cx="919.7" cy="346.6" r="6"/>
<circle cx="926.8" cy="344.6" r="6"/>
<circle cx="900.6" cy="360.3" r="6"/>
<circle cx="952.0" cy="351.6" r="6"/>
<circle cx="966.1" cy="363.7" r="6"/>
<circle cx="965.1" cy="340.5" r="6"/>
<circle cx="963.0" cy="273.0" r="6"/>
<circle cx="965.1" cy="318.4" r="6"/>
<circle cx="977.2" cy="324.4" r="6"/>
<circle cx="1007.0" cy="186.2" r="6"/>
<circle cx="1032.6" cy="192.4" r="6"/>
<circle cx="1046.7" cy="188.8" r="6"/>
<circle cx="1026.4" cy="203.0" r="6"/>
<circle cx="1014.9" cy="210.0" r="6"/>
<circle cx="1037.9" cy="208.3" r="6"/>
<circle cx="1049.3" cy="208.3" r="6"/>
<circle cx="1111.2" cy="188.8" r="6"/>
<circle cx="1105.9" cy="197.7" r="6"/>
<circle cx="1108.5" cy="203.0" r="6"/>
<circle cx="1129.7" cy="203.0" r="6"/>
<circle cx="1026.4" cy="242.7" r="6"/>
<circle cx="1045.8" cy="239.2" r="6"/>
<circle cx="1053.8" cy="244.5" r="6"/>
<circle cx="1100.6" cy="242.7" r="6"/>
<circle cx="1133.2" cy="250.6" r="6"/>
<circle cx="1116.5" cy="268.3" r="6"/>
<circle cx="1067.0" cy="271.8" r="6"/>
<circle cx="987.5" cy="212.7" r="6"/>
<circle cx="992.8" cy="233.9" r="6"/>
<circle cx="991.1" cy="245.3" r="6"/>
<circle cx="988.0" cy="354.6" r="6"/>
<circle cx="1020.3" cy="349.6" r="6"/>
<circle cx="1038.4" cy="341.5" r="6"/>
<circle cx="1010.2" cy="332.5" r="6"/>
<circle cx="1061.6" cy="331.5" r="6"/>
<circle cx="1078.7" cy="290.2" r="6"/>
<circle cx="1066.6" cy="285.1" r="6"/>
<circle cx="1027.3" cy="281.1" r="6"/>
<circle cx="1117.0" cy="330.5" r="6"/>
<circle cx="1106.9" cy="341.5" r="6"/>
<circle cx="1103.9" cy="346.6" r="6"/>
<circle cx="1115.0" cy="356.6" r="6"/>
<circle cx="1107.9" cy="367.7" r="6"/>
<circle cx="1129.1" cy="325.4" r="6"/>
<circle cx="1129.1" cy="356.6" r="6"/>
<circle cx="1133.1" cy="361.7" r="6"/>
<circle cx="1139.2" cy="355.6" r="6"/>
<circle cx="1129.1" cy="292.2" r="6"/>
<circle cx="1136.1" cy="286.1" r="6"/>
<circle cx="1116.0" cy="271.0" r="6"/>
<circle cx="1100.9" cy="273.0" r="6"/>
<circle cx="1082.7" cy="328.4" r="6"/>
<circle cx="1150.7" cy="197.7" r="6"/>
<circle cx="1253.1" cy="197.7" r="6"/>
<circle cx="1198.7" cy="248.9" r="6"/>
<circle cx="1214.3" cy="247.1" r="6"/>
<circle cx="1228.4" cy="245.3" r="6"/>
<circle cx="1250.8" cy="261.2" r="6"/>
<circle cx="1275.6" cy="263.0" r="6"/>
<circle cx="1296.8" cy="243.6" r="6"/>
<circle cx="1264.1" cy="273.6" r="6"/>
<circle cx="1257.0" cy="277.1" r="6"/>
<circle cx="1240.2" cy="278.9" r="6"/>
<circle cx="1219.9" cy="280.0" r="6"/>
<circle cx="1286.2" cy="278.0" r="6"/>
<circle cx="1295.0" cy="278.9" r="6"/>
<circle cx="1168.2" cy="293.2" r="6"/>
<circle cx="1190.3" cy="286.1" r="6"/>
<circle cx="1227.6" cy="289.1" r="6"/>
<circle cx="1295.1" cy="282.1" r="6"/>
<circle cx="1295.1" cy="296.2" r="6"/>
<circle cx="1303.2" cy="295.2" r="6"/>
<circle cx="1225.6" cy="302.2" r="6"/>
<circle cx="1231.7" cy="311.3" r="6"/>
<circle cx="1208.5" cy="294.2" r="6"/>
<circle cx="1197.4" cy="305.3" r="6"/>
<circle cx="1163.1" cy="314.3" r="6"/>
<circle cx="1168.2" cy="332.5" r="6"/>
<circle cx="1185.3" cy="335.5" r="6"/>
<circle cx="1235.7" cy="342.5" r="6"/>
<circle cx="1194.4" cy="349.6" r="6"/>
<circle cx="1170.2" cy="351.6" r="6"/>
<circle cx="1179.3" cy="354.6" r="6"/>
<circle cx="1152.1" cy="358.7" r="6"/>
<circle cx="1145.0" cy="326.4" r="6"/>
<circle cx="1339.7" cy="250.6" r="6"/>
<circle cx="1368.8" cy="277.5" r="6"/>
<circle cx="1328.4" cy="278.0" r="6"/>
<circle cx="1320.1" cy="295.2" r="6"/>
<circle cx="1353.7" cy="286.1" r="6"/>
<circle cx="993.6" cy="247.7" r="6"/>
<circle cx="1048.4" cy="242.4" r="6"/>
<circle cx="1069.6" cy="272.4" r="6"/>
<circle cx="1011.3" cy="261.8" r="6"/>
</g>
<path d="M863.0,231.1 L863.0,244.6 L865.8,264.4 L875.4,282.7 L875.5,282.8 L882.5,296.8 L882.7,297.2 L882.8,297.6 L887.4,313.4 L894.2,320.1 L909.4,330.6 L943.9,344.0 L968.0,344.0 L968.4,344.0 L968.8,344.1 L1002.1,349.6 L1015.3,334.7 L1015.6,334.4 L1015.9,334.0 L1016.3,333.8 L1016.7,333.5 L1017.2,333.4 L1017.6,333.2 L1018.1,333.1 L1018.5,333.0 L1019.0,333.0 L1040.0,333.0 L1040.5,333.0 L1041.0,333.1 L1055.0,335.9 L1074.5,332.2 L1095.9,322.4 L1096.4,322.3 L1096.9,322.1 L1097.4,322.0 L1123.4,319.0 L1124.0,319.0 L1146.7,319.0 L1149.5,312.2 L1146.7,306.5 L1123.2,302.9 L1122.8,302.9 L1122.5,302.8 L1088.5,291.8 L1088.1,291.6 L1087.7,291.4 L1066.9,280.6 L1046.4,272.7 L1018.6,264.8 L1018.1,264.6 L1017.6,264.4 L1017.1,264.1 L994.4,248.3 L972.6,236.4 L972.2,236.2 L971.9,235.9 L959.2,225.7 L946.9,230.6 L946.4,230.8 L945.9,230.9 L945.4,231.0 L944.9,231.0 L944.4,231.0 L943.9,230.9 L917.0,224.9 L896.0,221.1 L875.6,224.8 L863.0,231.1Z" fill="#55a868"/>
<circle cx="863.6" cy="233.0" r="6.0" fill="#55a868"/>
<circle cx="861.3" cy="237.0" r="6.0" fill="#55a868"/>
<circle cx="861.2" cy="242.1" r="6.0" fill="#55a868"/>
<circle cx="863.2" cy="247.6" r="6.0" fill="#55a868"/>
<circle cx="864.5" cy="256.8" r="6.0" fill="#55a868"/>
<circle cx="866.2" cy="259.2" r="6.0" fill="#55a868"/>
<circle cx="869.0" cy="266.4" r="6.0" fill="#55a868"/>
<circle cx="868.0" cy="270.3" r="6.0" fill="#55a868"/>
<circle cx="873.3" cy="275.3" r="6.0" fill="#55a868"/>
<circle cx="875.6" cy="283.3" r="6.0" fill="#55a868"/>
<circle cx="877.3" cy="289.5" r="6.0" fill="#55a868"/>
<circle cx="881.7" cy="295.5" r="6.0" fill="#55a868"/>
<circle cx="882.1" cy="300.2" r="6.0" fill="#55a868"/>
<circle cx="886.7" cy="303.5" r="6.0" fill="#55a868"/>
<circle cx="885.1" cy="309.9" r="6.0" fill="#55a868"/>
<circle cx="890.4" cy="316.6" r="6.0" fill="#55a868"/>
<circle cx="895.8" cy="321.7" r="6.0" fill="#55a868"/>
<circle cx="898.7" cy="323.0" r="6.0" fill="#55a868"/>
<circle cx="905.7" cy="326.2" r="6.0" fill="#55a868"/>
<circle cx="909.5" cy="332.0" r="6.0" fill="#55a868"/>
<circle cx="914.6" cy="332.7" r="6.0" fill="#55a868"/>
<circle cx="919.9" cy="333.7" r="6.0" fill="#55a868"/>
<circle cx="924.2" cy="335.6" r="6.0" fill="#55a868"/>
<circle cx="932.0" cy="338.4" r="6.0" fill="#55a868"/>
<circle cx="937.5" cy="340.7" r="6.0" fill="#55a868"/>
<circle cx="943.2" cy="341.8" r="6.0" fill="#55a868"/>
<circle cx="946.7" cy="343.6" r="6.0" fill="#55a868"/>
<circle cx="954.4" cy="341.8" r="6.0" fill="#55a868"/>
<circle cx="959.0" cy="343.5" r="6.0" fill="#55a868"/>
<circle cx="964.7" cy="343.9" r="6.0" fill="#55a868"/>
<circle cx="973.9" cy="346.3" r="6.0" fill="#55a868"/>
<circle cx="979.2" cy="347.3" r="6.0" fill="#55a868"/>
<circle cx="982.3" cy="347.7" r="6.0" fill="#55a868"/>
<circle cx="991.3" cy="347.9" r="6.0" fill="#55a868"/>
<circle cx="994.7" cy="349.6" r="6.0" fill="#55a868"/>
<circle cx="1000.2" cy="350.5" r="6.0" fill="#55a868"/>
<circle cx="1006.1" cy="346.4" r="6.0" fill="#55a868"/>
<circle cx="1009.4" cy="339.8" r="6.0" fill="#55a868"/>
<circle cx="1011.9" cy="337.9" r="6.0" fill="#55a868"/>
<circle cx="1016.9" cy="330.8" r="6.0" fill="#55a868"/>
<circle cx="1024.2" cy="333.9" r="6.0" fill="#55a868"/>
<circle cx="1030.0" cy="332.9" r="6.0" fill="#55a868"/>
<circle cx="1037.0" cy="333.9" r="6.0" fill="#55a868"/>
<circle cx="1042.5" cy="333.5" r="6.0" fill="#55a868"/>
<circle cx="1049.3" cy="336.6" r="6.0" fill="#55a868"/>
<circle cx="1052.7" cy="333.7" r="6.0" fill="#55a868"/>
<circle cx="1059.5" cy="334.0" r="6.0" fill="#55a868"/>
<circle cx="1067.8" cy="334.0" r="6.0" fill="#55a868"/>
<circle cx="1070.3" cy="334.1" r="6.0" fill="#55a868"/>
<circle cx="1078.3" cy="329.4" r="6.0" fill="#55a868"/>
<circle cx="1083.7" cy="326.0" r="6.0" fill="#55a868"/>
<circle cx="1090.1" cy="327.3" r="6.0" fill="#55a868"/>
<circle cx="1095.5" cy="324.0" r="6.0" fill="#55a868"/>
<circle cx="1098.2" cy="321.4" r="6.0" fill="#55a868"/>
<circle cx="1106.7" cy="321.7" r="6.0" fill="#55a868"/>
<circle cx="1111.0" cy="322.0" r="6.0" fill="#55a868"/>
<circle cx="1116.6" cy="319.7" r="6.0" fill="#55a868"/>
<circle cx="1123.7" cy="320.6" r="6.0" fill="#55a868"/>
<circle cx="1130.2" cy="319.0" r="6.0" fill="#55a868"/>
<circle cx="1135.0" cy="317.3" r="6.0" fill="#55a868"/>
<circle cx="1143.9" cy="317.8" r="6.0" fill="#55a868"/>
<circle cx="1147.5" cy="319.1" r="6.0" fill="#55a868"/>
<circle cx="1148.4" cy="312.9" r="6.0" fill="#55a868"/>
<circle cx="1146.1" cy="307.6" r="6.0" fill="#55a868"/>
<circle cx="1141.2" cy="304.2" r="6.0" fill="#55a868"/>
<circle cx="1134.4" cy="306.1" r="6.0" fill="#55a868"/>
<circle cx="1128.3" cy="304.9" r="6.0" fill="#55a868"/>
<circle cx="1123.5" cy="304.7" r="6.0" fill="#55a868"/>
<circle cx="1115.7" cy="301.7" r="6.0" fill="#55a868"/>
<circle cx="1112.0" cy="301.4" r="6.0" fill="#55a868"/>
<circle cx="1107.6" cy="297.5" r="6.0" fill="#55a868"/>
<circle cx="1102.0" cy="293.4" r="6.0" fill="#55a868"/>
<circle cx="1095.4" cy="292.6" r="6.0" fill="#55a868"/>
<circle cx="1090.6" cy="291.4" r="6.0" fill="#55a868"/>
<circle cx="1082.7" cy="287.5" r="6.0" fill="#55a868"/>
<circle cx="1076.5" cy="284.6" r="6.0" fill="#55a868"/>
<circle cx="1072.9" cy="285.2" r="6.0" fill="#55a868"/>
<circle cx="1066.4" cy="281.6" r="6.0" fill="#55a868"/>
<circle cx="1060.5" cy="280.2" r="6.0" fill="#55a868"/>
<circle cx="1056.8" cy="274.6" r="6.0" fill="#55a868"/>
<circle cx="1049.8" cy="272.6" r="6.0" fill="#55a868"/>
<circle cx="1046.7" cy="274.2" r="6.0" fill="#55a868"/>
<circle cx="1037.2" cy="271.6" r="6.0" fill="#55a868"/>
<circle cx="1034.4" cy="268.8" r="6.0" fill="#55a868"/>
<circle cx="1027.0" cy="267.0" r="6.0" fill="#55a868"/>
<circle cx="1020.1" cy="263.7" r="6.0" fill="#55a868"/>
<circle cx="1017.1" cy="264.1" r="6.0" fill="#55a868"/>
<circle cx="1012.1" cy="260.9" r="6.0" fill="#55a868"/>
<circle cx="1007.8" cy="254.8" r="6.0" fill="#55a868"/>
<circle cx="1003.2" cy="254.5" r="6.0" fill="#55a868"/>
<circle cx="996.4" cy="247.6" r="6.0" fill="#55a868"/>
<circle cx="992.7" cy="246.6" r="6.0" fill="#55a868"/>
<circle cx="988.0" cy="245.4" r="6.0" fill="#55a868"/>
<circle cx="982.3" cy="242.7" r="6.0" fill="#55a868"/>
<circle cx="976.6" cy="239.8" r="6.0" fill="#55a868"/>
<circle cx="970.7" cy="236.1" r="6.0" fill="#55a868"/>
<circle cx="963.6" cy="230.9" r="6.0" fill="#55a868"/>
<circle cx="962.9" cy="227.0" r="6.0" fill="#55a868"/>
<circle cx="954.9" cy="225.5" r="6.0" fill="#55a868"/>
<circle cx="949.3" cy="229.9" r="6.0" fill="#55a868"/>
<circle cx="946.2" cy="229.9" r="6.0" fill="#55a868"/>
<circle cx="937.5" cy="229.8" r="6.0" fill="#55a868"/>
<circle cx="931.8" cy="228.2" r="6.0" fill="#55a868"/>
<circle cx="925.6" cy="226.7" r="6.0" fill="#55a868"/>
<circle cx="922.6" cy="227.9" r="6.0" fill="#55a868"/>
<circle cx="915.6" cy="225.2" r="6.0" fill="#55a868"/>
<circle cx="909.0" cy="224.4" r="6.0" fill="#55a868"/>
<circle cx="903.5" cy="224.4" r="6.0" fill="#55a868"/>
<circle cx="898.7" cy="221.8" r="6.0" fill="#55a868"/>
<circle cx="890.4" cy="223.1" r="6.0" fill="#55a868"/>
<circle cx="886.7" cy="223.7" r="6.0" fill="#55a868"/>
<circle cx="881.4" cy="222.3" r="6.0" fill="#55a868"/>
<circle cx="874.1" cy="227.8" r="6.0" fill="#55a868"/>
<circle cx="867.4" cy="227.1" r="6.0" fill="#55a868"/>
<g fill="#55a868">
<circle cx="921.2" cy="212.7" r="6"/>
<circle cx="851.6" cy="194.4" r="6"/>
<circle cx="891.1" cy="222.7" r="6"/>
<circle cx="953.6" cy="209.1" r="6"/>
<circle cx="933.7" cy="213.0" r="6"/>
<circle cx="871.8" cy="198.6" r="6"/>
<circle cx="858.8" cy="223.2" r="6"/>
<circle cx="861.2" cy="214.7" r="6"/>
<circle cx="900.5" cy="196.3" r="6"/>
<circle cx="866.9" cy="197.5" r="6"/>
<circle cx="870.3" cy="190.3" r="6"/>
<circle cx="875.7" cy="223.0" r="6"/>
<circle cx="910.1" cy="197.2" r="6"/>
<circle cx="939.4" cy="201.0" r="6"/>
<circle cx="996.4" cy="213.1" r="6"/>
<circle cx="903.5" cy="193.6" r="6"/>
<circle cx="953.5" cy="213.8" r="6"/>
<circle cx="867.1" cy="185.3" r="6"/>
<circle cx="904.5" cy="203.2" r="6"/>
<circle cx="971.5" cy="202.5" r="6"/>
<circle cx="914.5" cy="203.7" r="6"/>
<circle cx="883.3" cy="197.8" r="6"/>
<circle cx="908.2" cy="220.2" r="6"/>
<circle cx="865.4" cy="205.7" r="6"/>
<circle cx="876.7" cy="215.2" r="6"/>
<circle cx="855.5" cy="188.0" r="6"/>
<circle cx="901.6" cy="211.4" r="6"/>
<circle cx="857.8" cy="199.9" r="6"/>
<circle cx="881.3" cy="188.3" r="6"/>
<circle cx="904.6" cy="182.3" r="6"/>
<circle cx="962.3" cy="229.3" r="6"/>
<circle cx="851.0" cy="187.4" r="6"/>
<circle cx="965.6" cy="192.2" r="6"/>
<circle cx="856.0" cy="210.2" r="6"/>
<circle cx="898.4" cy="221.2" r="6"/>
<circle cx="974.8" cy="211.6" r="6"/>
<circle cx="884.4" cy="204.3" r="6"/>
<circle cx="921.6" cy="210.8" r="6"/>
<circle cx="927.3" cy="215.2" r="6"/>
<circle cx="892.8" cy="186.6" r="6"/>
<circle cx="952.5" cy="215.1" r="6"/>
<circle cx="913.0" cy="185.7" r="6"/>
<circle cx="934.0" cy="210.6" r="6"/>
<circle cx="988.0" cy="232.5" r="6"/>
<circle cx="964.1" cy="197.1" r="6"/>
<circle cx="968.4" cy="207.7" r="6"/>
<circle cx="902.1" cy="194.0" r="6"/>
<circle cx="960.4" cy="206.6" r="6"/>
<circle cx="985.6" cy="221.9" r="6"/>
<circle cx="984.6" cy="229.2" r="6"/>
<circle cx="930.2" cy="221.3" r="6"/>
<circle cx="903.0" cy="190.3" r="6"/>
<circle cx="990.1" cy="214.8" r="6"/>
<circle cx="931.2" cy="210.4" r="6"/>
<circle cx="868.7" cy="204.7" r="6"/>
<circle cx="955.1" cy="195.6" r="6"/>
<circle cx="886.9" cy="196.4" r="6"/>
<circle cx="898.5" cy="214.5" r="6"/>
<circle cx="871.3" cy="175.9" r="6"/>
<circle cx="896.9" cy="215.2" r="6"/>
</g>
<g fill="#55a868">
<circle cx="1036.1" cy="81.6" r="6"/>
<circle cx="1050.2" cy="93.6" r="6"/>
<circle cx="1131.5" cy="65.7" r="6"/>
<circle cx="1163.1" cy="19.8" r="6"/>
<circle cx="1198.4" cy="65.7" r="6"/>
<circle cx="1262.0" cy="96.2" r="6"/>
<circle cx="1339.7" cy="99.5" r="6"/>
<circle cx="860.2" cy="104.4" r="6"/>
<circle cx="880.9" cy="104.1" r="6"/>
<circle cx="894.6" cy="113.3" r="6"/>
<circle cx="858.4" cy="118.6" r="6"/>
<circle cx="864.6" cy="116.8" r="6"/>
<circle cx="877.0" cy="122.1" r="6"/>
<circle cx="910.5" cy="124.7" r="6"/>
<circle cx="911.4" cy="128.3" r="6"/>
<circle cx="954.7" cy="97.4" r="6"/>
<circle cx="964.4" cy="101.2" r="6"/>
<circle cx="865.0" cy="139.7" r="6"/>
<circle cx="878.7" cy="148.6" r="6"/>
<circle cx="887.6" cy="146.8" r="6"/>
<circle cx="895.5" cy="142.4" r="6"/>
<circle cx="899.9" cy="148.6" r="6"/>
<circle cx="926.4" cy="143.3" r="6"/>
<circle cx="931.7" cy="141.5" r="6"/>
<circle cx="954.7" cy="139.7" r="6"/>
<circle cx="981.2" cy="138.0" r="6"/>
<circle cx="862.9" cy="153.9" r="6"/>
<circle cx="854.0" cy="164.5" r="6"/>
<circle cx="864.6" cy="166.2" r="6"/>
<circle cx="877.0" cy="171.5" r="6"/>
<circle cx="848.7" cy="175.1" r="6"/>
<circle cx="861.1" cy="176.8" r="6"/>
<circle cx="924.7" cy="168.0" r="6"/>
<circle cx="933.5" cy="160.9" r="6"/>
<circle cx="910.5" cy="176.0" r="6"/>
<circle cx="967.1" cy="152.1" r="6"/>
<circle cx="975.9" cy="171.5" r="6"/>
<circle cx="963.5" cy="176.8" r="6"/>
<circle cx="981.2" cy="152.1" r="6"/>
<circle cx="889.3" cy="183.9" r="6"/>
<circle cx="922.9" cy="181.2" r="6"/>
<circle cx="1007.8" cy="129.2" r="6"/>
<circle cx="1060.8" cy="143.3" r="6"/>
<circle cx="985.8" cy="153.9" r="6"/>
<circle cx="1037.9" cy="168.0" r="6"/>
<circle cx="1014.9" cy="179.5" r="6"/>
<circle cx="995.5" cy="183.0" r="6"/>
<circle cx="1078.5" cy="172.4" r="6"/>
<circle cx="1076.7" cy="179.5" r="6"/>
<circle cx="1096.1" cy="179.5" r="6"/>
<circle cx="1110.3" cy="166.2" r="6"/>
<circle cx="1296.8" cy="123.9" r="6"/>
<circle cx="1263.7" cy="132.3" r="6"/>
<circle cx="1240.8" cy="155.6" r="6"/>
<circle cx="1247.3" cy="181.2" r="6"/>
<circle cx="1270.3" cy="179.5" r="6"/>
<circle cx="1152.0" cy="130.9" r="6"/>
<circle cx="1206.7" cy="129.2" r="6"/>
<circle cx="1161.3" cy="168.0" r="6"/>
<circle cx="1186.0" cy="176.8" r="6"/>
<circle cx="1314.9" cy="106.2" r="6"/>
<circle cx="1336.1" cy="129.2" r="6"/>
<circle cx="1374.1" cy="120.3" r="6"/>
<circle cx="1382.0" cy="115.0" r="6"/>
<circle cx="866.4" cy="178.5" r="6"/>
<circle cx="858.4" cy="190.0" r="6"/>
<circle cx="872.6" cy="189.1" r="6"/>
<circle cx="889.3" cy="187.4" r="6"/>
<circle cx="919.4" cy="183.8" r="6"/>
<circle cx="930.0" cy="187.4" r="6"/>
<circle cx="940.6" cy="190.9" r="6"/>
<circle cx="859.3" cy="201.5" r="6"/>
<circle cx="875.2" cy="200.6" r="6"/>
<circle cx="890.2" cy="203.3" r="6"/>
<circle cx="902.6" cy="204.1" r="6"/>
<circle cx="915.8" cy="202.4" r="6"/>
<circle cx="855.8" cy="210.3" r="6"/>
<circle cx="864.6" cy="215.6" r="6"/>
<circle cx="889.3" cy="216.5" r="6"/>
<circle cx="917.6" cy="216.5" r="6"/>
<circle cx="931.7" cy="210.3" r="6"/>
<circle cx="938.8" cy="213.9" r="6"/>
<circle cx="947.6" cy="213.0" r="6"/>
<circle cx="961.7" cy="179.4" r="6"/>
<circle cx="974.1" cy="190.9" r="6"/>
<circle cx="977.6" cy="206.8" r="6"/>
<circle cx="963.5" cy="217.4" r="6"/>
<circle cx="861.1" cy="224.4" r="6"/>
<circle cx="852.3" cy="233.3" r="6"/>
<circle cx="861.1" cy="243.9" r="6"/>
<circle cx="889.5" cy="321.4" r="6"/>
<circle cx="914.7" cy="342.5" r="6"/>
<circle cx="942.9" cy="358.7" r="6"/>
<circle cx="962.0" cy="347.6" r="6"/>
<circle cx="886.5" cy="307.3" r="6"/>
<circle cx="876.4" cy="282.1" r="6"/>
<circle cx="999.0" cy="197.7" r="6"/>
<circle cx="992.8" cy="206.5" r="6"/>
<circle cx="1009.6" cy="203.0" r="6"/>
<circle cx="1018.4" cy="217.1" r="6"/>
<circle cx="1028.2" cy="210.9" r="6"/>
<circle cx="1028.2" cy="217.1" r="6"/>
<circle cx="1047.6" cy="194.1" r="6"/>
<circle cx="1050.2" cy="197.7" r="6"/>
<circle cx="1046.7" cy="203.8" r="6"/>
<circle cx="1039.6" cy="224.2" r="6"/>
<circle cx="1025.5" cy="233.0" r="6"/>
<circle cx="989.3" cy="220.6" r="6"/>
<circle cx="1003.4" cy="231.2" r="6"/>
<circle cx="1000.8" cy="238.3" r="6"/>
<circle cx="1012.3" cy="242.7" r="6"/>
<circle cx="988.4" cy="248.0" r="6"/>
<circle cx="1050.2" cy="241.8" r="6"/>
<circle cx="1016.7" cy="255.9" r="6"/>
<circle cx="1034.3" cy="257.7" r="6"/>
<circle cx="1052.9" cy="257.7" r="6"/>
<circle cx="1066.1" cy="188.8" r="6"/>
<circle cx="1075.8" cy="187.1" r="6"/>
<circle cx="1090.0" cy="187.1" r="6"/>
<circle cx="1094.4" cy="195.0" r="6"/>
<circle cx="1071.4" cy="210.0" r="6"/>
<circle cx="1080.2" cy="218.9" r="6"/>
<circle cx="1078.5" cy="238.3" r="6"/>
<circle cx="1086.4" cy="233.0" r="6"/>
<circle cx="1082.9" cy="245.3" r="6"/>
<circle cx="1105.0" cy="248.9" r="6"/>
<circle cx="1076.7" cy="261.2" r="6"/>
<circle cx="1093.5" cy="261.2" r="6"/>
<circle cx="1109.4" cy="270.1" r="6"/>
<circle cx="1131.5" cy="224.2" r="6"/>
<circle cx="1131.5" cy="241.8" r="6"/>
<circle cx="1136.8" cy="263.0" r="6"/>
<circle cx="1142.1" cy="215.3" r="6"/>
<circle cx="1064.4" cy="266.5" r="6"/>
<circle cx="1084.7" cy="276.2" r="6"/>
<circle cx="1008.2" cy="359.7" r="6"/>
<circle cx="1052.5" cy="342.5" r="6"/>
<circle cx="1072.7" cy="339.5" r="6"/>
<circle cx="1083.7" cy="281.1" r="6"/>
<circle cx="1086.8" cy="293.2" r="6"/>
<circle cx="1092.8" cy="273.0" r="6"/>
<circle cx="1107.9" cy="273.0" r="6"/>
<circle cx="1108.9" cy="282.1" r="6"/>
<circle cx="1117.0" cy="295.2" r="6"/>
<circle cx="1138.2" cy="299.2" r="6"/>
<circle cx="1137.2" cy="326.4" r="6"/>
<circle cx="1090.8" cy="328.4" r="6"/>
<circle cx="1100.9" cy="328.4" r="6"/>
<circle cx="1182.5" cy="191.0" r="6"/>
<circle cx="1214.6" cy="202.6" r="6"/>
<circle cx="1215.5" cy="213.9" r="6"/>
<circle cx="1152.0" cy="240.0" r="6"/>
<circle cx="1147.5" cy="248.9" r="6"/>
<circle cx="1189.6" cy="252.4" r="6"/>
<circle cx="1182.0" cy="266.5" r="6"/>
<circle cx="1193.4" cy="264.8" r="6"/>
<circle cx="1204.0" cy="261.2" r="6"/>
<circle cx="1191.7" cy="273.6" r="6"/>
<circle cx="1200.5" cy="274.5" r="6"/>
<circle cx="1161.7" cy="271.8" r="6"/>
<circle cx="1171.4" cy="278.0" r="6"/>
<circle cx="1219.1" cy="270.1" r="6"/>
<circle cx="1240.2" cy="268.3" r="6"/>
<circle cx="1243.8" cy="194.1" r="6"/>
<circle cx="1273.8" cy="222.4" r="6"/>
<circle cx="1257.9" cy="234.7" r="6"/>
<circle cx="1263.2" cy="252.4" r="6"/>
<circle cx="1298.5" cy="255.9" r="6"/>
<circle cx="1167.2" cy="288.1" r="6"/>
<circle cx="1179.3" cy="288.1" r="6"/>
<circle cx="1203.4" cy="283.1" r="6"/>
<circle cx="1198.4" cy="291.2" r="6"/>
<circle cx="1192.4" cy="298.2" r="6"/>
<circle cx="1180.3" cy="300.2" r="6"/>
<circle cx="1204.5" cy="300.2" r="6"/>
<circle cx="1212.5" cy="298.2" r="6"/>
<circle cx="1213.5" cy="307.3" r="6"/>
<circle cx="1221.6" cy="310.3" r="6"/>
<circle cx="1160.1" cy="300.2" r="6"/>
<circle cx="1150.0" cy="302.2" r="6"/>
<circle cx="1150.0" cy="314.3" r="6"/>
<circle cx="1170.2" cy="309.3" r="6"/>
<circle cx="1180.3" cy="317.4" r="6"/>
<circle cx="1189.3" cy="313.3" r="6"/>
<circle cx="1190.3" cy="320.4" r="6"/>
<circle cx="1200.4" cy="316.3" r="6"/>
<circle cx="1168.2" cy="323.4" r="6"/>
<circle cx="1156.1" cy="325.4" r="6"/>
<circle cx="1148.0" cy="320.4" r="6"/>
<circle cx="1240.7" cy="271.0" r="6"/>
<circle cx="1249.8" cy="288.1" r="6"/>
<circle cx="1254.8" cy="303.2" r="6"/>
<circle cx="1326.8" cy="204.7" r="6"/>
<circle cx="1077.6" cy="219.4" r="6"/>
<circle cx="1023.7" cy="212.4" r="6"/>
<circle cx="1030.7" cy="212.4" r="6"/>
</g>
<g fill="#4c72b0">
<ellipse cx="961.2" cy="273" rx="4.5" ry="2.1" transform="rotate(112 961.2 273)"/>
<ellipse cx="964.7" cy="258.8" rx="3.8" ry="1.8" transform="rotate(134 964.7 258.8)"/>
<ellipse cx="973.6" cy="267.7" rx="3.0" ry="1.4" transform="rotate(143 973.6 267.7)"/>
<ellipse cx="971.8" cy="276.5" rx="3.0" ry="1.4" transform="rotate(170 971.8 276.5)"/>
<ellipse cx="970.9" cy="290.6" rx="3.0" ry="1.4" transform="rotate(133 970.9 290.6)"/>
<ellipse cx="1027.4" cy="281.8" rx="4.5" ry="2.1" transform="rotate(166 1027.4 281.8)"/>
<ellipse cx="1028.3" cy="290.6" rx="3.8" ry="1.8" transform="rotate(5 1028.3 290.6)"/>
<ellipse cx="1010.6" cy="262.4" rx="3.8" ry="1.8" transform="rotate(84 1010.6 262.4)"/>
<ellipse cx="993" cy="257" rx="3.8" ry="1.8" transform="rotate(170 993 257)"/>
<ellipse cx="964.7" cy="318" rx="4.5" ry="2.1" transform="rotate(117 964.7 318)"/>
<ellipse cx="975.3" cy="324.2" rx="4.5" ry="2.1" transform="rotate(162 975.3 324.2)"/>
<ellipse cx="966.5" cy="340" rx="4.5" ry="2.1" transform="rotate(20 966.5 340)"/>
<ellipse cx="987.7" cy="341.8" rx="3.8" ry="1.8" transform="rotate(84 987.7 341.8)"/>
<ellipse cx="1010.6" cy="331.2" rx="4.5" ry="2.1" transform="rotate(44 1010.6 331.2)"/>
<ellipse cx="1040.7" cy="306.5" rx="3.0" ry="1.4" transform="rotate(98 1040.7 306.5)"/>
<ellipse cx="1008" cy="311" rx="3.0" ry="1.4" transform="rotate(103 1008 311)"/>
<ellipse cx="1074.2" cy="288.9" rx="5.2" ry="2.4" transform="rotate(2 1074.2 288.9)"/>
<ellipse cx="1067.2" cy="273" rx="4.5" ry="2.1" transform="rotate(39 1067.2 273)"/>
<ellipse cx="1046" cy="271.2" rx="3.8" ry="1.8" transform="rotate(50 1046 271.2)"/>
<ellipse cx="900" cy="260" rx="4.5" ry="2.1" transform="rotate(165 900 260)"/>
<ellipse cx="915" cy="290" rx="3.8" ry="1.8" transform="rotate(138 915 290)"/>
<ellipse cx="930" cy="250" rx="3.8" ry="1.8" transform="rotate(29 930 250)"/>
<ellipse cx="890" cy="300" rx="3.0" ry="1.4" transform="rotate(143 890 300)"/>
<ellipse cx="945" cy="300" rx="3.8" ry="1.8" transform="rotate(25 945 300)"/>
<ellipse cx="920" cy="320" rx="3.8" ry="1.8" transform="rotate(111 920 320)"/>
<ellipse cx="1100" cy="310" rx="4.5" ry="2.1" transform="rotate(23 1100 310)"/>
<ellipse cx="1120" cy="305" rx="3.8" ry="1.8" transform="rotate(0 1120 305)"/>
<ellipse cx="1135" cy="315" rx="4.5" ry="2.1" transform="rotate(157 1135 315)"/>
</g>
</g></g>
<text x="879.5" y="415.7" text-anchor="middle" class="tk">−2</text>
<text x="995.5" y="415.7" text-anchor="middle" class="tk">0</text>
<text x="1109.5" y="415.7" text-anchor="middle" class="tk">2</text>
<text x="1223.5" y="415.7" text-anchor="middle" class="tk">4</text>
<text x="1337.5" y="415.7" text-anchor="middle" class="tk">6</text>
<text x="805.2" y="18.0" text-anchor="end" class="tk" textLength="72.95" lengthAdjust="spacingAndGlyphs">200000</text>
<text x="805.2" y="83.6" text-anchor="end" class="tk" textLength="72.95" lengthAdjust="spacingAndGlyphs">150000</text>
<text x="805.2" y="149.3" text-anchor="end" class="tk" textLength="72.95" lengthAdjust="spacingAndGlyphs">100000</text>
<text x="805.2" y="214.9" text-anchor="end" class="tk" textLength="60.79" lengthAdjust="spacingAndGlyphs">50000</text>
<text x="805.2" y="280.5" text-anchor="end" class="tk" textLength="12.16" lengthAdjust="spacingAndGlyphs">0</text>
<text x="803.4" y="346.1" text-anchor="end" class="tk" textLength="76.80" lengthAdjust="spacingAndGlyphs">−50000</text>
<text x="1411.7" y="438.9" text-anchor="end" class="tk" textLength="36.07" lengthAdjust="spacingAndGlyphs">1e9</text>
<rect x="1263.9" y="11.0" width="138.6" height="61.4" rx="3.5" fill="#eaeaf2" fill-opacity="0.8" stroke="#cccccc" stroke-opacity="0.8" stroke-width="1.2"/>
<circle cx="1290" cy="26.9" r="6" fill="#4c72b0" stroke="#fff" stroke-width="0.6"/>
<circle cx="1290" cy="53.5" r="6" fill="#55a868" stroke="#fff" stroke-width="0.6"/>
<text x="1324.5" y="32.8" class="tk">nonIDC</text>
<text x="1324.5" y="60.8" class="tk" textLength="32.4" lengthAdjust="spacingAndGlyphs">IDC</text>
<text x="23.38" y="500" class="cap" textLength="49.71" lengthAdjust="spacingAndGlyphs">(a)</text>
<text x="91.6" y="500" class="cap" textLength="108.33" lengthAdjust="spacingAndGlyphs">before</text>
<text x="215.84" y="500" class="cap" textLength="56.75" lengthAdjust="spacingAndGlyphs">the</text>
<text x="284.41" y="500" class="cap" textLength="135.57" lengthAdjust="spacingAndGlyphs">outliers</text>
<text x="434.55" y="500" class="cap" textLength="260.17" lengthAdjust="spacingAndGlyphs">harmonization</text>
<text x="256.25" y="550.5" class="cap" textLength="111.24" lengthAdjust="spacingAndGlyphs">(Input</text>
<text x="384.88" y="550.5" class="cap" textLength="75.78" lengthAdjust="spacingAndGlyphs">DB)</text>
<text x="760.8" y="500" class="cap" textLength="54.32" lengthAdjust="spacingAndGlyphs">(b)</text>
<text x="828.8" y="500" class="cap" textLength="83.61" lengthAdjust="spacingAndGlyphs">after</text>
<text x="928.84" y="500" class="cap" textLength="56.44" lengthAdjust="spacingAndGlyphs">the</text>
<text x="996.91" y="500" class="cap" textLength="135.57" lengthAdjust="spacingAndGlyphs">outliers</text>
<text x="1147.15" y="500" class="cap" textLength="260.17" lengthAdjust="spacingAndGlyphs">harmonization</text>
<text x="979.7" y="550.5" class="cap" textLength="118.39" lengthAdjust="spacingAndGlyphs">(Clean</text>
<text x="1111.26" y="550.5" class="cap" textLength="77.03" lengthAdjust="spacingAndGlyphs">DB)</text>
</svg>
</body></html>
